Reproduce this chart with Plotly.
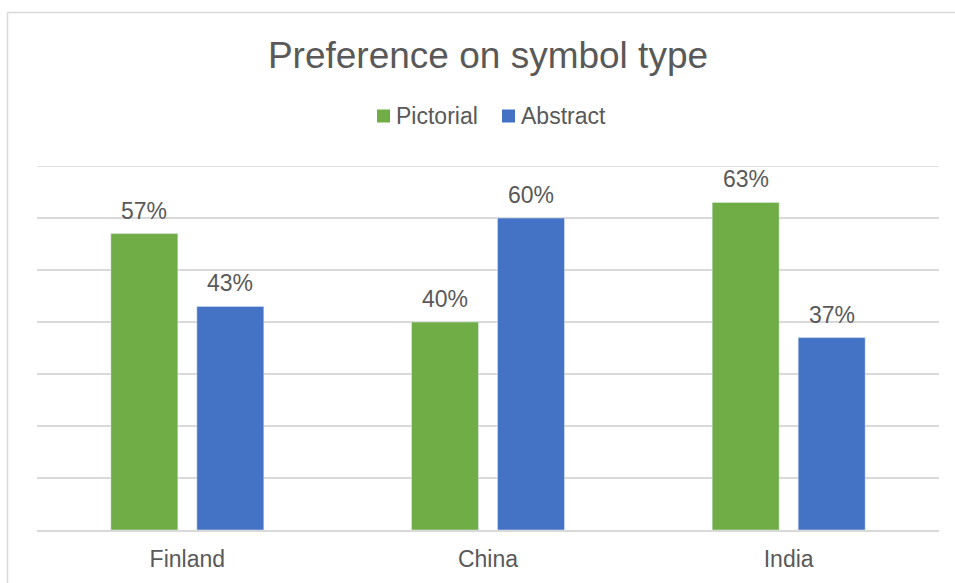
import plotly.graph_objects as go

# Survey results: share of respondents preferring each symbol type
countries = ["Finland", "China", "India"]
pictorial = [0.57, 0.40, 0.63]
abstract = [0.43, 0.60, 0.37]
series_names = ["Pictorial", "Abstract"]
y_max = 0.7

GREEN = "#70AD47"
BLUE = "#4472C4"
TEXT = "#595959"
GRID = "#D9D9D9"
FONT = "Liberation Sans, Arial, sans-serif"

W, H = 955, 583
L, R, T, B = 37, 16, 166, 53
PW, PH = W - L - R, H - T - B
BARGAP, GROUPGAP = 0.428, 0.221

fig = go.Figure()
for name, vals, col in [(series_names[0], pictorial, GREEN),
                        (series_names[1], abstract, BLUE)]:
    fig.add_trace(go.Bar(name=name, x=countries, y=vals, marker_color=col,
                         showlegend=False, cliponaxis=False))


def px_x(px):
    return (px - L) / PW


def px_y(py):
    return (H - B - py) / PH


# value labels above each bar, offset to the bar's slot in the group
slot_px = PW / len(countries) * (1 - BARGAP) / 2
annotations = []
for vals, shift in [(pictorial, -slot_px / 2), (abstract, slot_px / 2)]:
    for c, v in zip(countries, vals):
        annotations.append(dict(
            x=c, y=v, xref="x", yref="y", text=f"{v:.0%}", showarrow=False,
            xshift=shift, yanchor="bottom", yshift=8,
            font=dict(size=23, color=TEXT, family=FONT)))

# legend: colour squares with series names
legend_items = [(series_names[0], GREEN, 377), (series_names[1], BLUE, 502)]
shapes = []
for name, col, x0 in legend_items:
    shapes.append(dict(type="rect", xref="paper", yref="paper",
                       x0=px_x(x0), x1=px_x(x0 + 13),
                       y0=px_y(122.5), y1=px_y(109.5),
                       fillcolor=col, line=dict(width=0)))
    annotations.append(dict(x=px_x(x0 + 17), y=px_y(116), xref="paper", yref="paper",
                            text=name, showarrow=False, xanchor="left",
                            yanchor="middle",
                            font=dict(size=23, color=TEXT, family=FONT)))

# top gridline at the axis maximum
shapes.append(dict(type="line", xref="paper", yref="y", x0=0, x1=1,
                   y0=y_max, y1=y_max, line=dict(color=GRID, width=1.5),
                   layer="below"))

# outer chart frame (left and top edges visible)
frame = [
    dict(x0=px_x(7.5), x1=px_x(7.5), y0=px_y(12.5), y1=px_y(590)),
    dict(x0=px_x(7.5), x1=px_x(960), y0=px_y(12.5), y1=px_y(12.5)),
]
shapes += [dict(type="line", xref="paper", yref="paper",
                line=dict(color=GRID, width=1.5), layer="below", **f) for f in frame]

fig.update_layout(
    width=W, height=H,
    margin=dict(l=L, r=R, t=T, b=B, autoexpand=False),
    paper_bgcolor="white", plot_bgcolor="white",
    font=dict(family=FONT, color=TEXT),
    title=dict(text="Preference on symbol type", xref="paper", x=0.5,
               xanchor="center", y=1 - 55 / H, yanchor="middle",
               font=dict(size=37, color=TEXT, family=FONT)),
    barmode="group", bargap=BARGAP, bargroupgap=GROUPGAP,
    showlegend=False,
    xaxis=dict(showgrid=False, showline=True, linecolor=GRID, linewidth=1.5,
               ticks="outside", ticklen=8, tickcolor="rgba(0,0,0,0)",
               tickfont=dict(size=23, color=TEXT, family=FONT),
               fixedrange=True),
    yaxis=dict(range=[0, y_max], dtick=0.1, showgrid=True, gridcolor=GRID,
               gridwidth=1.5, showticklabels=False, zeroline=False,
               fixedrange=True),
    shapes=shapes,
    annotations=annotations,
)

fig.write_html("out.html")
